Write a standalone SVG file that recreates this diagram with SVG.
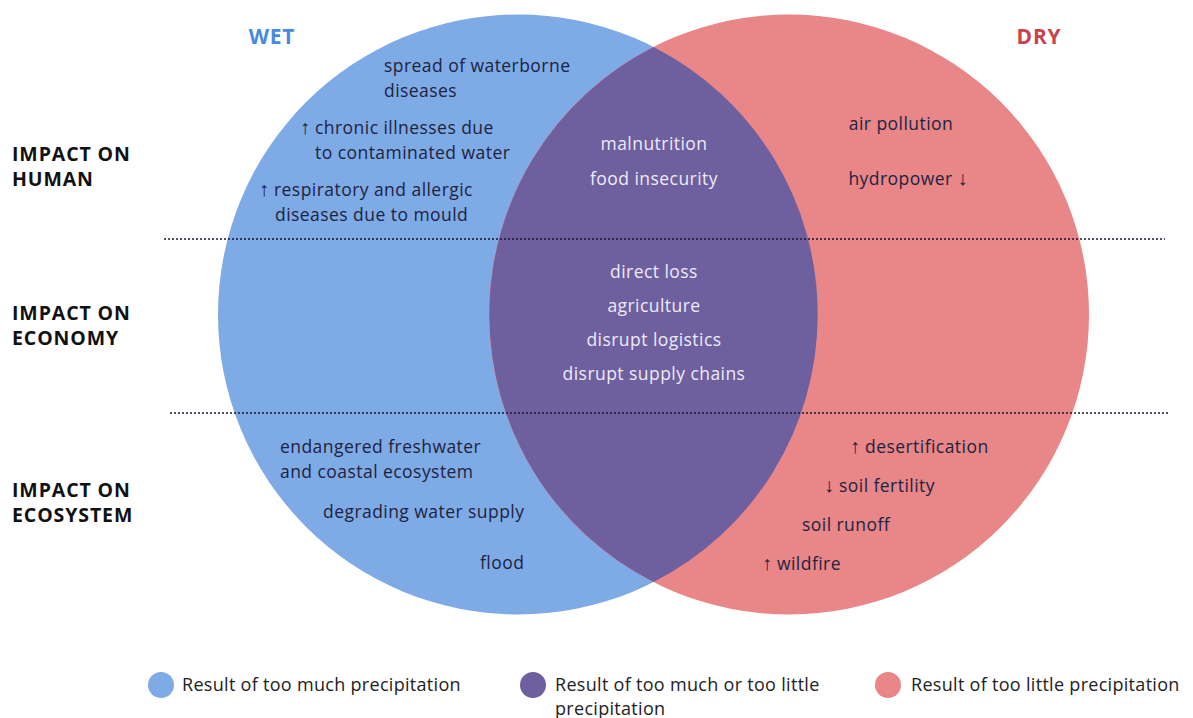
<svg xmlns="http://www.w3.org/2000/svg" width="1193" height="718" viewBox="0 0 1193 718">
<style>
.t{font-family:"Open Sans","Liberation Sans",sans-serif;font-size:17.5px;letter-spacing:0.45px;fill:#1d2340}
.w{font-family:"Open Sans","Liberation Sans",sans-serif;font-size:17.5px;letter-spacing:0.45px;fill:#ecebf7;text-anchor:middle}
.h{font-family:"Open Sans","Liberation Sans",sans-serif;font-size:19.5px;letter-spacing:0.9px;font-weight:bold;fill:#111}
.lg{font-family:"Open Sans","Liberation Sans",sans-serif;font-size:18px;letter-spacing:0.3px;fill:#222}
.ar{font-family:"Liberation Sans","DejaVu Sans",sans-serif;font-size:20px;letter-spacing:0}
.div{stroke:#1a1a2e;stroke-width:1.6;stroke-dasharray:2 2;fill:none}
</style>
<rect width="1193" height="718" fill="#ffffff"/>
<g id="wet-circle">
<circle cx="518" cy="314.5" r="300" fill="#7eaae6"/>
</g>
<g id="dry-circle">
<circle cx="789" cy="314.5" r="300" fill="#e88688"/>
</g>
<g id="overlap">
<path d="M653.5 47 A300 300 0 0 1 653.5 582 A300 300 0 0 1 653.5 47 Z" fill="#6e5f9f"/>
</g>
<g id="connectors">
<line class="div" x1="164" y1="239" x2="1165" y2="239"/>
<line class="div" x1="170" y1="413" x2="1169" y2="413"/>
</g>
<g id="titles">
<text x="272" y="44" text-anchor="middle" font-family="Open Sans, Liberation Sans, sans-serif" font-size="21" letter-spacing="0.8" font-weight="bold" fill="#4a8ade">WET</text>
<text x="1039" y="44" text-anchor="middle" font-family="Open Sans, Liberation Sans, sans-serif" font-size="21" letter-spacing="0.8" font-weight="bold" fill="#c9434f">DRY</text>
</g>
<g id="row-labels">
<text class="h" x="12" y="161">IMPACT ON</text>
<text class="h" x="12" y="186">HUMAN</text>
<text class="h" x="12" y="320">IMPACT ON</text>
<text class="h" x="12" y="345">ECONOMY</text>
<text class="h" x="12" y="497">IMPACT ON</text>
<text class="h" x="12" y="522">ECOSYSTEM</text>
</g>
<g id="wet-items">
<text class="t" x="384" y="72">spread of waterborne</text>
<text class="t" x="384" y="97">diseases</text>
<text class="t" x="300" y="134"><tspan class="ar">↑</tspan> chronic illnesses due</text>
<text class="t" x="315" y="159">to contaminated water</text>
<text class="t" x="259" y="196"><tspan class="ar">↑</tspan> respiratory and allergic</text>
<text class="t" x="275" y="221">diseases due to mould</text>
<text class="t" x="280" y="453">endangered freshwater</text>
<text class="t" x="280" y="478">and coastal ecosystem</text>
<text class="t" x="323" y="518">degrading water supply</text>
<text class="t" x="480" y="569">flood</text>
</g>
<g id="both-items">
<text class="w" x="654" y="150">malnutrition</text>
<text class="w" x="654" y="185">food insecurity</text>
<text class="w" x="654" y="278">direct loss</text>
<text class="w" x="654" y="312">agriculture</text>
<text class="w" x="654" y="346">disrupt logistics</text>
<text class="w" x="654" y="380">disrupt supply chains</text>
</g>
<g id="dry-items">
<text class="t" x="901" y="130" text-anchor="middle">air pollution</text>
<text class="t" x="908" y="185" text-anchor="middle">hydropower <tspan class="ar">↓</tspan></text>
<text class="t" x="850" y="453"><tspan class="ar">↑</tspan> desertification</text>
<text class="t" x="824" y="492"><tspan class="ar">↓</tspan> soil fertility</text>
<text class="t" x="802" y="531">soil runoff</text>
<text class="t" x="762" y="570"><tspan class="ar">↑</tspan> wildfire</text>
</g>
<g id="legend">
<circle cx="161" cy="685" r="13" fill="#7eaae6"/>
<text class="lg" x="182" y="691">Result of too much precipitation</text>
<circle cx="533" cy="685" r="13" fill="#6e5f9f"/>
<text class="lg" x="555" y="691">Result of too much or too little</text>
<text class="lg" x="555" y="715">precipitation</text>
<circle cx="888" cy="685" r="13" fill="#e88688"/>
<text class="lg" x="911" y="691">Result of too little precipitation</text>
</g>
</svg>
